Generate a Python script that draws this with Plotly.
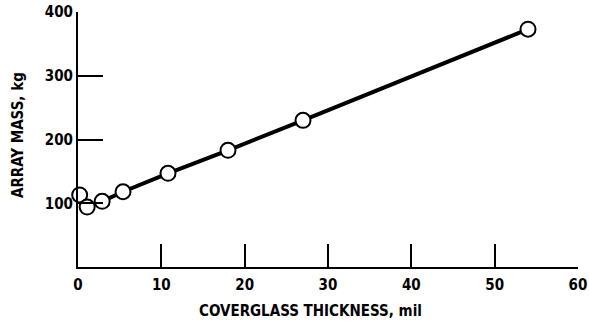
import plotly.graph_objects as go

thickness_mil = [0.2, 1.1, 2.9, 5.4, 10.8, 18.0, 27.0, 54.0]
array_mass_kg = [113, 94, 103, 118, 147, 183, 230, 373]

x_ticks = [0, 10, 20, 30, 40, 50, 60]
y_ticks = [100, 200, 300, 400]

x_title = "COVERGLASS THICKNESS, mil"
y_title = "ARRAY MASS, kg"

FONT = "DejaVu Sans Condensed"
TF = dict(size=15, family=FONT, color="black", weight="bold")

fig = go.Figure()
fig.add_trace(go.Scatter(
    x=thickness_mil, y=array_mass_kg, mode="lines+markers",
    line=dict(color="black", width=4),
    marker=dict(symbol="circle", size=15, color="white",
                line=dict(color="black", width=2)),
    cliponaxis=False, showlegend=False,
))

fig.update_layout(
    width=589, height=329,
    margin=dict(l=78, r=11, t=12, b=62, autoexpand=False),
    plot_bgcolor="white", paper_bgcolor="white",
    font=TF,
)
fig.update_xaxes(
    range=[0, 60], tickvals=x_ticks, ticktext=[str(v) for v in x_ticks],
    showline=True, linecolor="black", linewidth=2,
    ticks="inside", ticklen=23, tickwidth=2, tickcolor="black",
    showgrid=False, zeroline=False, automargin=False,
    tickfont=TF, ticklabelstandoff=3,
)
fig.update_yaxes(
    range=[0, 400], tickvals=y_ticks, ticktext=[str(v) for v in y_ticks],
    showline=True, linecolor="black", linewidth=2,
    ticks="inside", ticklen=25, tickwidth=2, tickcolor="black",
    showgrid=False, zeroline=False, automargin=False,
    tickfont=TF,
)
fig.add_annotation(text=x_title, xref="paper", yref="paper", x=(310 - 78) / 500, y=-(311 - 267) / 255,
                   showarrow=False, font=TF, xanchor="center", yanchor="middle")
fig.add_annotation(text=y_title, xref="paper", yref="paper", x=-(78 - 18) / 500, y=(267 - 135) / 255,
                   showarrow=False, font=TF, textangle=-90, xanchor="center", yanchor="middle")

fig.write_html("out.html")
